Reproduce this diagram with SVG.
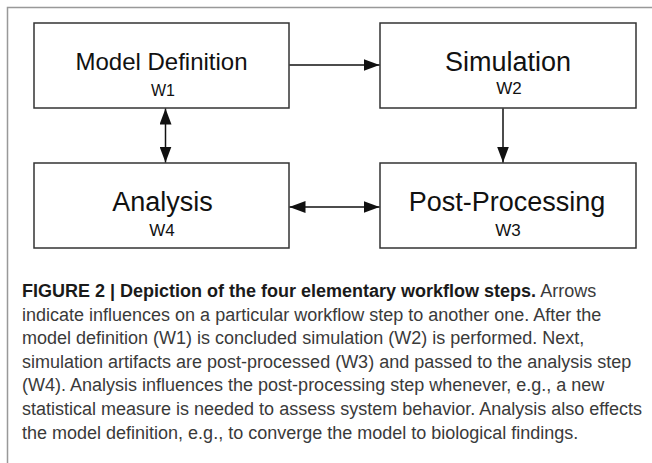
<svg xmlns="http://www.w3.org/2000/svg" width="652" height="463" viewBox="0 0 652 463">
<style>
.box{fill:#fff;stroke:#333;stroke-width:1.5}
.t{font-family:"Liberation Sans",Arial,sans-serif;fill:#111;text-anchor:middle}
.conn{stroke:#111;stroke-width:1.5;fill:none}
.cap{font-family:"Liberation Sans",Arial,sans-serif;font-size:18px;fill:#3a3a3a}
.capb{font-weight:bold;fill:#1a1a1a}
</style>
<defs>
<marker id="ah" viewBox="0 0 16 12" refX="16" refY="6" markerWidth="16" markerHeight="12" markerUnits="userSpaceOnUse" orient="auto-start-reverse">
<path d="M0,0 L16,6 L0,12 Z" fill="#111"/>
</marker>
</defs>
<rect width="652" height="463" fill="#fff"/>
<path d="M7.5,463 V7.5 H652" fill="none" stroke="#999" stroke-width="1.5"/>
<g id="w1">
<rect class="box" x="34" y="23" width="255" height="85"/>
<text class="t" x="161.5" y="69.5" font-size="24">Model Definition</text>
<text class="t" x="163" y="96" font-size="16">W1</text>
</g>
<g id="w2">
<rect class="box" x="380" y="23" width="256" height="85"/>
<text class="t" x="508" y="71" font-size="27">Simulation</text>
<text class="t" x="509" y="94" font-size="17">W2</text>
</g>
<g id="w4">
<rect class="box" x="34" y="163" width="255" height="85"/>
<text class="t" x="162.5" y="211" font-size="27">Analysis</text>
<text class="t" x="162" y="236" font-size="17">W4</text>
</g>
<g id="w3">
<rect class="box" x="380" y="163" width="256" height="85"/>
<text class="t" x="507" y="211" font-size="27">Post-Processing</text>
<text class="t" x="508" y="236" font-size="17">W3</text>
</g>
<g id="connectors">
<line class="conn" x1="289.5" y1="65" x2="379.5" y2="65" marker-end="url(#ah)"/>
<line class="conn" x1="503" y1="108.5" x2="503" y2="162.5" marker-end="url(#ah)"/>
<line class="conn" x1="165.5" y1="108.5" x2="165.5" y2="162.5" marker-start="url(#ah)" marker-end="url(#ah)"/>
<line class="conn" x1="289.5" y1="207" x2="379.5" y2="207" marker-start="url(#ah)" marker-end="url(#ah)"/>
</g>
<g id="caption" class="cap">
<text x="22" y="297"><tspan class="capb">FIGURE 2 | Depiction of the four elementary workflow steps.</tspan> Arrows</text>
<text x="22" y="320.6">indicate influences on a particular workflow step to another one. After the</text>
<text x="22" y="344.2">model definition (W1) is concluded simulation (W2) is performed. Next,</text>
<text x="22" y="367.8">simulation artifacts are post-processed (W3) and passed to the analysis step</text>
<text x="22" y="391.4">(W4). Analysis influences the post-processing step whenever, e.g., a new</text>
<text x="22" y="415">statistical measure is needed to assess system behavior. Analysis also effects</text>
<text x="22" y="438.6">the model definition, e.g., to converge the model to biological findings.</text>
</g>
</svg>
